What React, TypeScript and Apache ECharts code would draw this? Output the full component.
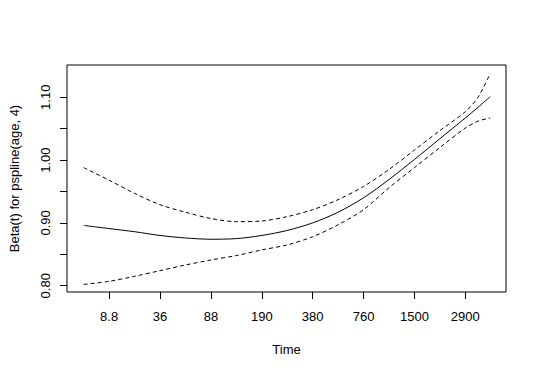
import React, { useEffect, useRef } from "react";
import * as echarts from "echarts";

const tickLabels = ["8.8", "36", "88", "190", "380", "760", "1500", "2900"];
const tickPositions = [0, 1, 2, 3, 4, 5, 6, 7];
const yTicks = [0.8, 0.85, 0.9, 0.95, 1.0, 1.05, 1.1];
const yLabels = [0.8, 0.9, 1.0, 1.1];

const t = [-0.5, 0.0, 0.5, 1.0, 1.5, 2.0, 2.5, 3.0, 3.5, 4.0, 4.5, 5.0, 5.5, 6.0, 6.5, 7.0, 7.25, 7.49];
const beta = [0.896, 0.891, 0.886, 0.88, 0.876, 0.874, 0.875, 0.88, 0.888, 0.9, 0.917, 0.94, 0.969, 1.001, 1.034, 1.067, 1.084, 1.101];
const upper = [0.988, 0.968, 0.947, 0.929, 0.917, 0.907, 0.902, 0.903, 0.91, 0.921, 0.937, 0.958, 0.985, 1.016, 1.047, 1.077, 1.1, 1.138];
const lower = [0.802, 0.807, 0.815, 0.824, 0.833, 0.841, 0.848, 0.857, 0.865, 0.878, 0.897, 0.921, 0.956, 0.988, 1.02, 1.051, 1.062, 1.067];

const FONT = "'Liberation Sans', Arial, sans-serif";

export default function App() {
  const ref = useRef<HTMLDivElement>(null);
  useEffect(() => {
    if (!ref.current) return;
    const chart = echarts.init(ref.current, null, { renderer: "svg" });
    const pairs = (ys: number[]) => t.map((x, i) => [x, ys[i]]);
    const lineSeries = (name: string, ys: number[], dashed: boolean) => ({
      name,
      type: "line",
      data: pairs(ys),
      showSymbol: false,
      symbol: "none",
      smooth: 0.3,
      lineStyle: { color: "#000", width: 1, type: dashed ? [4, 3] : "solid" },
      silent: true,
    });
    chart.setOption({
      animation: false,
      backgroundColor: "#fff",
      grid: {
        left: 65,
        top: 65,
        right: 34,
        bottom: 82,
        show: true,
        borderColor: "#000",
        borderWidth: 1,
        backgroundColor: "transparent",
      },
      xAxis: {
        type: "value",
        min: -0.828,
        max: 7.8,
        name: "Time",
        nameLocation: "middle",
        nameGap: 51,
        nameTextStyle: { fontFamily: FONT, fontSize: 13, color: "#000" },
        axisLine: { show: false, onZero: false },
        splitLine: { show: false },
        axisTick: {
          show: true,
          length: 7,
          customValues: tickPositions,
          lineStyle: { color: "#000" },
        },
        axisLabel: {
          customValues: tickPositions,
          formatter: (v: number) => tickLabels[Math.round(v)] ?? "",
          margin: 18,
          fontFamily: FONT,
          fontSize: 13,
          color: "#000",
        },
      },
      yAxis: {
        type: "value",
        min: 0.79,
        max: 1.1514,
        name: "Beta(t) for pspline(age, 4)",
        nameLocation: "middle",
        nameRotate: 90,
        nameGap: 46,
        nameTextStyle: { fontFamily: FONT, fontSize: 13, color: "#000" },
        axisLine: { show: false, onZero: false },
        splitLine: { show: false },
        axisTick: {
          show: true,
          length: 7,
          customValues: yTicks,
          lineStyle: { color: "#000" },
        },
        axisLabel: {
          customValues: yLabels,
          rotate: 90,
          formatter: (v: number) => v.toFixed(2),
          margin: 15,
          fontFamily: FONT,
          fontSize: 13,
          color: "#000",
        },
      },
      series: [
        lineSeries("beta", beta, false),
        lineSeries("upper", upper, true),
        lineSeries("lower", lower, true),
      ],
    });
    return () => chart.dispose();
  }, []);
  return <div ref={ref} style={{ width: 540, height: 374, margin: -8 }} />;
}
